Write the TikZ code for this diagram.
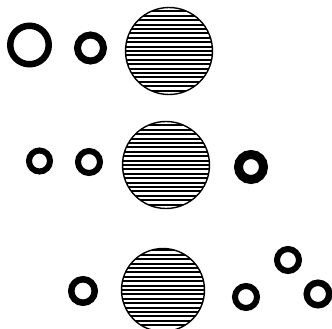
\documentclass[tikz,border=0pt]{standalone}
\usepackage{tikz}

\begin{document}
\begin{tikzpicture}[
      x=1pt, y=-1pt,
      ring/.style={circle, draw=black, line width=6.5pt, minimum size=#1, inner sep=0pt},
      disc/.style={circle, draw=black, line width=1.4pt, minimum size=#1, inner sep=0pt,
                   path picture={
                     \foreach \k in {-10,...,10}
                       \draw[line width=2pt]
                         ([yshift=\k*4.4pt]path picture bounding box.west) --
                         ([yshift=\k*4.4pt]path picture bounding box.east);
                   }}
    ]
    \useasboundingbox (0,0) rectangle (332,329);
    % top row
    \node[ring=38.5pt] (r1a) at (29.5,45) {};
    \node[ring=26pt, line width=7pt] (r1b) at (90.5,48) {};
    \node[disc=87pt] (d1) at (169,51) {};
    % middle row
    \node[ring=21pt, line width=6pt] (r2a) at (39.5,161) {};
    \node[ring=22pt, line width=6pt] (r2b) at (89,162) {};
    \node[disc=87pt] (d2) at (166,165) {};
    \node[ring=25pt, line width=9pt] (r2c) at (251,167) {};
    % bottom row
    \node[ring=23.5pt] (r3a) at (83,291) {};
    \node[disc=83pt] (d3) at (163,290) {};
    \node[ring=22pt, line width=6pt] (r3b) at (246,297) {};
    \node[ring=22pt, line width=6pt] (r3c) at (288,260) {};
    \node[ring=22.5pt] (r3d) at (318,294) {};
\end{tikzpicture}
\end{document}
